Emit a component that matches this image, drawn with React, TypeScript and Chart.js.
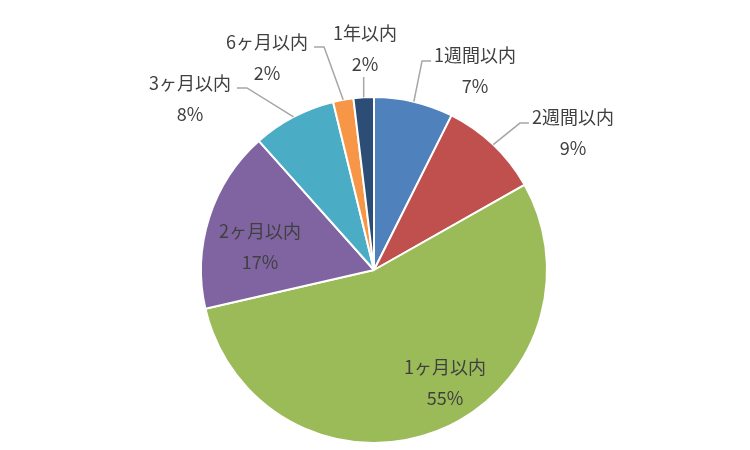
import React, { useEffect, useRef } from "react";
import { Chart, registerables } from "chart.js";

Chart.register(...registerables);

const categories = ["1週間以内", "2週間以内", "1ヶ月以内", "2ヶ月以内", "3ヶ月以内", "6ヶ月以内", "1年以内"];
const values = [7.4, 9.4, 54.6, 17.0, 7.8, 1.9, 1.9];
const colors = ["#4F81BD", "#C0504D", "#9BBB59", "#8064A2", "#4BACC6", "#F79646", "#2C4D75"];

// label anchor (first line centre) relative to pie centre, in units of radius; leader type
const labelLayout: [number, number, string][] = [
  [0.584, -1.243, "right"],
  [1.15, -0.884, "right"],
  [0.41, 0.56, "none"],
  [-0.659, -0.225, "none"],
  [-1.064, -1.081, "left"],
  [-0.618, -1.318, "left"],
  [-0.052, -1.37, "below"],
];

const FONT = '18px "Noto Sans CJK JP", "Noto Sans", sans-serif';
const TEXT_COLOR = "#404040";
const LINE_COLOR = "#A6A6A6";
const LINE_GAP = 31;

const labelPlugin = {
  id: "pieLabels",
  afterDatasetsDraw(chart: any) {
    const ctx = chart.ctx as CanvasRenderingContext2D;
    const meta = chart.getDatasetMeta(0);
    const data = chart.data.datasets[0].data as number[];
    const total = data.reduce((a, b) => a + b, 0);
    ctx.save();
    ctx.font = FONT;
    ctx.textAlign = "center";
    ctx.textBaseline = "middle";
    meta.data.forEach((arc: any, i: number) => {
      const { x, y, startAngle, endAngle, outerRadius } = arc.getProps(
        ["x", "y", "startAngle", "endAngle", "outerRadius"],
        true
      );
      const [fx, fy, kind] = labelLayout[i];
      const lx = x + fx * outerRadius;
      const ly = y + fy * outerRadius;
      const name = chart.data.labels[i] as string;
      const pct = Math.round((data[i] / total) * 100) + "%";
      ctx.fillStyle = TEXT_COLOR;
      ctx.fillText(name, lx, ly);
      ctx.fillText(pct, lx, ly + LINE_GAP);

      const mid = (startAngle + endAngle) / 2;
      const ex = x + Math.cos(mid) * outerRadius;
      const ey = y + Math.sin(mid) * outerRadius;
      const w = ctx.measureText(name).width;
      ctx.strokeStyle = LINE_COLOR;
      ctx.lineWidth = 1.5;
      ctx.beginPath();
      if (kind === "right") {
        const sx = lx - w / 2 - 3;
        const sy = ly + 6;
        ctx.moveTo(sx, sy);
        ctx.lineTo(sx - 9, sy);
        ctx.lineTo(ex, ey);
      } else if (kind === "left") {
        const sx = lx + w / 2 + 6;
        const sy = ly + 5;
        ctx.moveTo(sx, sy);
        ctx.lineTo(sx + 10, sy);
        ctx.lineTo(ex, ey);
      } else if (kind === "below") {
        ctx.moveTo(ex, ly + LINE_GAP + 13);
        ctx.lineTo(ex, ey);
      }
      ctx.stroke();
    });
    ctx.restore();
  },
};

export default function App() {
  const ref = useRef<HTMLCanvasElement | null>(null);
  useEffect(() => {
    if (!ref.current) return;
    const chart = new Chart(ref.current, {
      type: "pie",
      data: {
        labels: categories,
        datasets: [
          {
            data: values,
            backgroundColor: colors,
            borderColor: "#FFFFFF",
            borderWidth: 2,
          },
        ],
      },
      options: {
        responsive: false,
        animation: false,
        layout: { padding: { left: 200, right: 202, top: 96, bottom: 6 } },
        plugins: {
          legend: { display: false },
          title: { display: false },
          tooltip: { enabled: false },
        },
      },
      plugins: [labelPlugin],
    });
    return () => chart.destroy();
  }, []);
  return (
    <div style={{ position: "absolute", left: 0, top: 0, width: 750, height: 450, background: "#fff" }}>
      <canvas ref={ref} width={750} height={450} style={{ width: 750, height: 450 }} />
    </div>
  );
}
